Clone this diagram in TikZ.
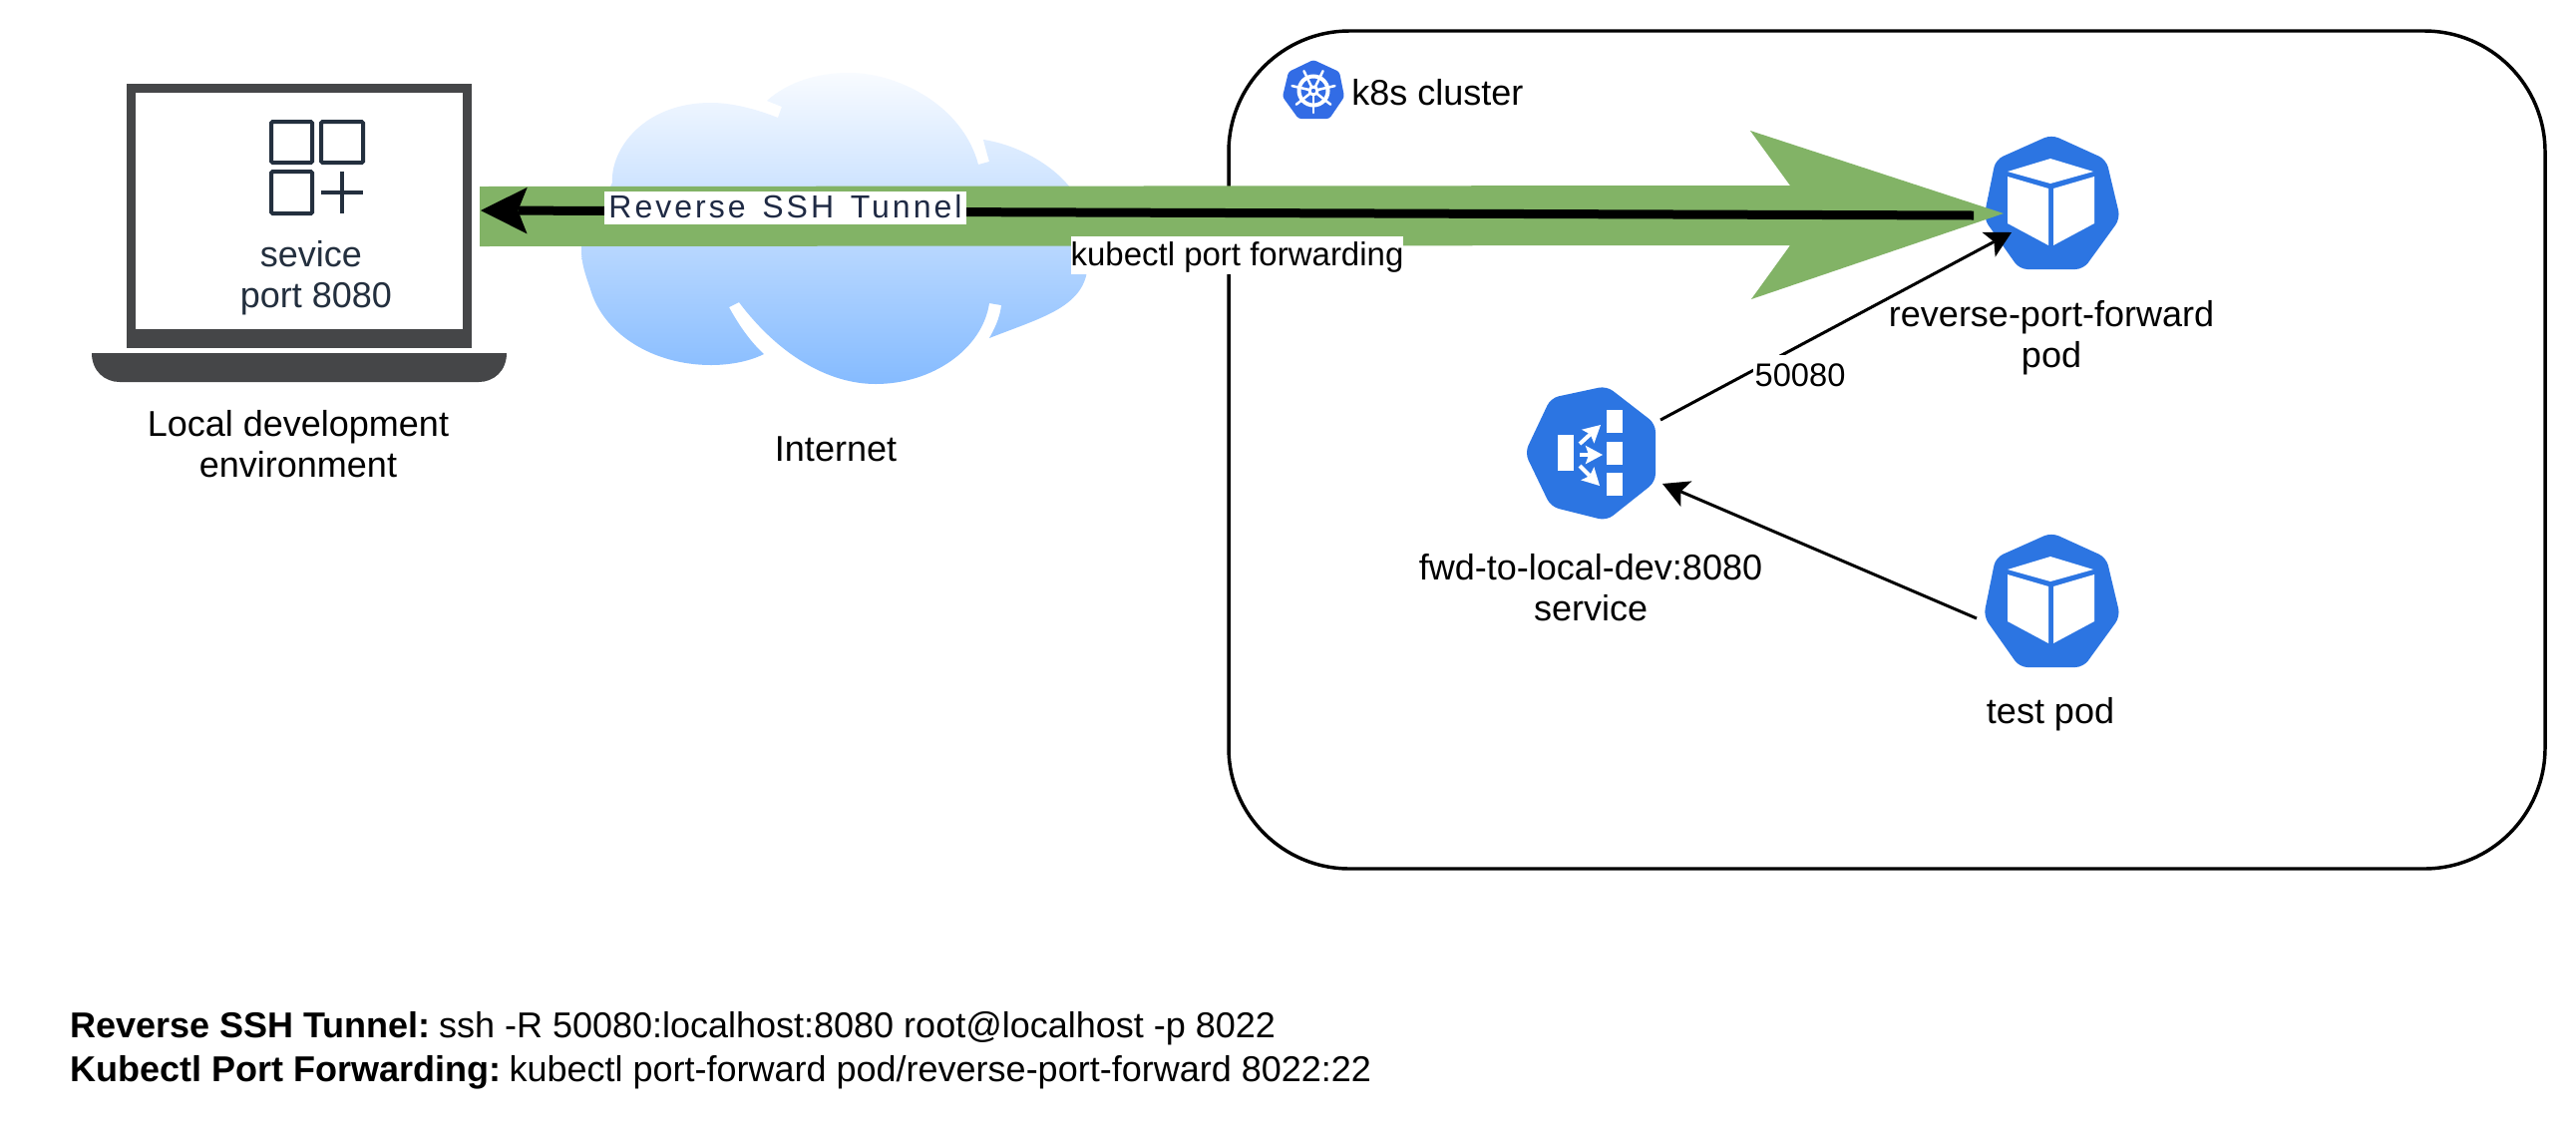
\documentclass[tikz,border=0pt]{standalone}
\usepackage{fontspec}
\setmainfont{Liberation Sans}
\usetikzlibrary{arrows.meta}
\definecolor{lapgray}{HTML}{454648}
\definecolor{awsink}{HTML}{232F3E}
\definecolor{tunnelink}{HTML}{1F2A44}
\definecolor{tubegreen}{HTML}{82B366}
\definecolor{podblue}{HTML}{2C75E2}
\definecolor{logoblue}{HTML}{326CE5}
\definecolor{cloudtop}{HTML}{F8FBFF}
\definecolor{cloudbot}{HTML}{85BBFF}
\newcommand\lblfont{\fontsize{27}{31}\selectfont}
\newcommand\twolines[2]{\begin{tabular}[t]{@{}c@{}}#1\\#2\end{tabular}}
\newcommand\podglyph[2]{%
  \begin{scope}[shift={(#1,#2)}]
    \fill[podblue,rounded corners=6pt] (0,-68) -- (55,-43) -- (69,16) -- (32,67) -- (-32,67) -- (-68,16) -- (-56,-43) -- cycle;
    \fill[white] (-44,-31) -- (-1,-44) -- (42,-31) -- (-1,-19) -- cycle;
    \fill[white] (-44,-26) -- (-3,-14) -- (-3,43) -- (-44,21) -- cycle;
    \fill[white] (2,-14) -- (43,-26) -- (43,21) -- (2,43) -- cycle;
  \end{scope}}
\tikzset{
  lbl/.style={font=\lblfont,inner sep=0pt,anchor=base,text=black},
  edgeline/.style={line width=2.25pt,black,-{Stealth[length=19.5pt,width=21pt,inset=4.5pt,line width=0pt]}},
  tunnelline/.style={line width=6.75pt,black,-{Stealth[length=35pt,width=35pt,inset=7pt,line width=0pt]}},
  whitearrow/.style={line width=3pt,white,-{Stealth[length=13pt,width=14pt,inset=2.5pt,line width=0pt]}},
  gridicon/.style={draw=awsink,line width=3pt,rounded corners=1pt},
}
\begin{document}
\begin{tikzpicture}[x=0.75pt,y=-0.75pt]
\useasboundingbox (0,0) rectangle (2583,1143);
\fill[white] (0,0) rectangle (2583,1143);

% cluster
\node[draw=black,line width=2.6pt,rounded corners=91pt,minimum width=990pt,minimum height=630pt,inner sep=0pt] (cluster) at (1892,451) {};

% logo
\fill[logoblue,rounded corners=2pt] (1317,60) -- (1343,72) -- (1348,97) -- (1333,119) -- (1302,119) -- (1286,97) -- (1292,72) -- cycle;
\draw[white,line width=3pt] (1317,91) circle[radius=14.5];
\foreach \a in {90,141.4,192.9,244.3,295.7,347.1,398.6}
  \draw[white,line width=1.9pt,line cap=round] (1317,91) -- ++(\a:22);
\fill[white] (1317,91) circle[radius=5.5];
\fill[logoblue] (1317,91) circle[radius=2.2];
\node[lbl,anchor=base west] (clusterlabel) at (1355,105) {k8s cluster};

% laptop
\fill[lapgray] (127,84) rectangle (473,349);
\fill[white] (136,93) rectangle (464,330);
\fill[lapgray] (92,354) -- (508,354) .. controls (508,372) and (495,383) .. (480,383) -- (120,383) .. controls (105,383) and (92,372) .. (92,354) -- cycle;
\node[inner sep=0pt,minimum width=259.5pt,minimum height=198.75pt] (laptop) at (300,216) {};
\draw[gridicon] (272,122) rectangle (313,163);
\draw[gridicon] (322,122) rectangle (364,163);
\draw[gridicon] (272,172) rectangle (313,214);
\draw[awsink,line width=3pt] (322,193) -- (364,193) (343,172) -- (343,214);
\node[lbl,text=awsink] (svclabel) at (317,267) {\twolines{sevice\hspace*{7.5pt}}{port 8080}};
\node[lbl] (laptoplabel) at (299,437) {\twolines{Local development}{environment}};

% cloud
\shade[top color=cloudtop,bottom color=cloudbot]
  (780,118) -- (784,107) -- (769,101)
  .. controls (790,82) and (820,73) .. (851,73)
  .. controls (900,73) and (965,105) .. (981,165)
  -- (992,162) .. controls (990,155) and (988,148) .. (986,140)
  .. controls (1020,145) and (1055,165) .. (1073,188)
  .. controls (1085,205) and (1095,250) .. (1089,277)
  .. controls (1080,310) and (1040,320) .. (992,339)
  .. controls (1000,325) and (1003,315) .. (1004,306)
  -- (992,304)
  .. controls (985,350) and (935,385) .. (878,385)
  .. controls (830,385) and (780,355) .. (741,303)
  -- (731,308)
  .. controls (743,330) and (755,345) .. (766,355)
  .. controls (750,363) and (730,366) .. (713,366)
  .. controls (655,366) and (605,335) .. (592,290)
  .. controls (587,275) and (583,265) .. (583,250)
  .. controls (583,220) and (605,205) .. (614,183)
  .. controls (612,150) and (645,103) .. (713,103)
  .. controls (735,103) and (760,110) .. (780,118) -- cycle;
\node[inner sep=0pt,minimum width=379pt,minimum height=234pt] (cloud) at (836,229) {};
\node[lbl] (internetlabel) at (838,462) {Internet};

% pods and service
\podglyph{2057}{203}
\podglyph{2057}{602}
\node[inner sep=0pt,minimum width=103pt,minimum height=101pt] (forwardpod) at (2057,203) {};
\node[inner sep=0pt,minimum width=103pt,minimum height=101pt] (testpod) at (2057,602) {};
\fill[podblue,rounded corners=6pt] (1611,387) -- (1660,425) -- (1660,483) -- (1611,522) -- (1555,508) -- (1529,454) -- (1555,399) -- cycle;
\fill[white] (1562,436) rectangle (1578,472);
\fill[white] (1611,411) rectangle (1627,434);
\fill[white] (1611,443) rectangle (1627,466);
\fill[white] (1611,474) rectangle (1627,497);
\node[inner sep=0pt,minimum width=98pt,minimum height=101pt] (service) at (1595,454) {};
\draw[whitearrow] (1584,445) -- (1605,426);
\draw[whitearrow] (1584,456) -- (1607,456);
\draw[whitearrow] (1584,467) -- (1604,487);
\node[lbl] (forwardlabel) at (2057,327) {\twolines{reverse-port-forward}{pod}};
\node[lbl] (testlabel) at (2056,725) {test pod};
\node[lbl] (servicelabel) at (1595,581) {\twolines{fwd-to-local-dev:8080}{service}};

% tunnel
\fill[tubegreen] (481,187) -- (1795,186) -- (1755,131) -- (2009,214) -- (1756,300) -- (1795,246) -- (481,247) -- cycle;
\draw[tunnelline] ([shift={(-78,13)}]forwardpod.center) -- ([shift={(182,-5)}]laptop.center);
\node[anchor=base,fill=white,inner sep=0pt,text=tunnelink,minimum width=272.25pt,text height=19.5pt,text depth=5.25pt,
  font={\fontsize{24}{28}\selectfont\addfontfeatures{LetterSpace=9.4}\spaceskip=12.5pt\relax}] (tunnellabel) at (787.5,218) {Reverse SSH Tunnel};
\node[anchor=base,fill=white,inner sep=0pt,text=black,minimum width=249.75pt,text height=21.75pt,text depth=6.75pt,
  font={\fontsize{24.75}{28}\selectfont}] (kubelabel) at (1240.5,266) {kubectl port forwarding};

% edges
\draw[edgeline] ([shift={(70,-33)}]service.center) -- ([shift={(-40,30)}]forwardpod.center);
\draw[edgeline] ([shift={(-75,18)}]testpod.center) -- ([shift={(72,31)}]service.center);
\node[anchor=base,fill=white,inner sep=0pt,text=black,minimum width=71.25pt,text height=23.25pt,text depth=6pt,
  font={\fontsize{24.5}{28}\selectfont}] (portlabel) at (1805,387) {50080};

% notes
\node[lbl,anchor=base west] (note1) at (70,1040) {\textbf{Reverse SSH Tunnel:}\hspace{-3.75pt} ssh -R 50080:localhost:8080 root@localhost -p 8022};
\node[lbl,anchor=base west] (note2) at (70,1084) {\textbf{Kubectl Port Forwarding:}\hspace{-3.75pt} kubectl port-forward pod/reverse-port-forward 8022:22};
\end{tikzpicture}
\end{document}
